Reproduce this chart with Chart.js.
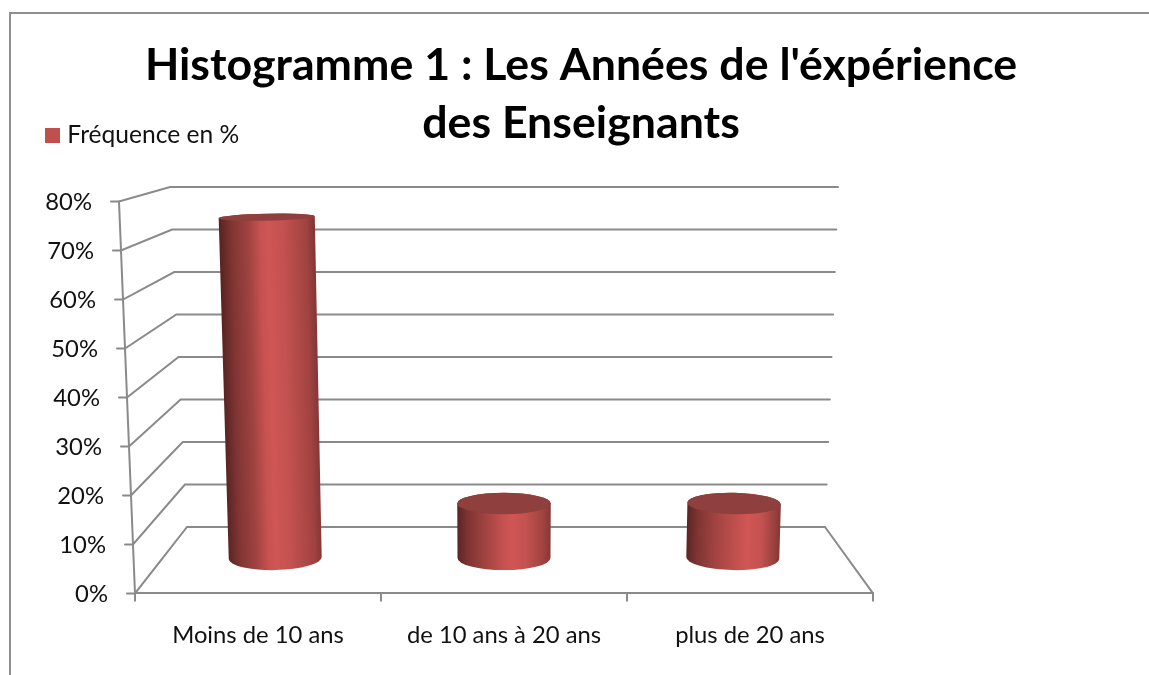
<!DOCTYPE html>
<html>
<head>
<meta charset="utf-8">
<style>html,body{margin:0;padding:0;background:#fff}canvas{display:block}</style>
<script src="https://cdn.jsdelivr.net/npm/chart.js@4/dist/chart.umd.min.js"></script>
</head>
<body>
<div style="width:1149px;height:675px"><canvas id="c"></canvas></div>
<script>
const titleLines = ["Histogramme 1 : Les Années de l'éxpérience", "des Enseignants"];
const categories = ["Moins de 10 ans", "de 10 ans à 20 ans", "plus de 20 ans"];
const seriesName = "Fréquence en %";
const frequencies = [75, 12, 12];
const axisMax = 80;
const axisStep = 10;

const AXIS = '#8a8a8a';
const RED = '#C0504D';
const FONT = 'Lato, Carlito, Calibri, sans-serif';

// Legend swatch: a 15px square, drawn as the legend's point style.
const swatch = document.createElement('canvas');
swatch.width = 15; swatch.height = 15;
const sw = swatch.getContext('2d'); sw.fillStyle = RED; sw.fillRect(0, 0, 15, 15);

// 3D look: the y scale is the front plane; the wall and the bars are derived from it.
function wallY(y, a) { return 527 + (y - a.bottom) * 340 / (a.bottom - a.top); }
function frac(y, a) { return (a.bottom - y) / (a.bottom - a.top); }
function axisX(y, a) { return a.left - 16 * frac(y, a); }
function wallLeft(y, a) { return 187 - 17 * frac(y, a); }
function wallRight(y, a) { return 825 + 13 * frac(y, a); }

const scene = {
  id: 'scene',
  afterLayout(chart) {
    chart.legend.left = 40; chart.legend.right = 500; chart.legend.top = 113;
    chart.titleBlock.left = 0; chart.titleBlock.right = 1162;
  },
  beforeDraw(chart) {
    const c = chart.ctx;
    c.save();
    c.strokeStyle = '#8f8f8f'; c.lineWidth = 2;
    c.beginPath(); c.moveTo(10, 675); c.lineTo(10, 13); c.lineTo(1149, 13); c.stroke();
    c.restore();
  },
  beforeDatasetsDraw(chart) {
    const c = chart.ctx, a = chart.chartArea, ys = chart.scales.y;
    c.save();
    c.strokeStyle = AXIS; c.lineWidth = 2; c.lineCap = 'round';
    ys.ticks.forEach(t => {
      const y = ys.getPixelForValue(t.value), x = axisX(y, a), wy = wallY(y, a);
      c.beginPath();
      c.moveTo(x - 8, y); c.lineTo(x, y);
      c.lineTo(wallLeft(y, a), wy);
      c.lineTo(wallRight(y, a), wy);
      c.stroke();
      c.fillStyle = '#111'; c.font = '23.8px ' + FONT;
      c.textAlign = 'right'; c.textBaseline = 'middle';
      c.fillText(t.label, x - 27, y + 1);
    });
    const t = ys.getPixelForValue(axisMax), b = ys.getPixelForValue(0);
    c.beginPath(); c.moveTo(axisX(t, a), t); c.lineTo(axisX(b, a), b); c.stroke();
    c.beginPath(); c.moveTo(wallRight(b, a), wallY(b, a)); c.lineTo(a.right, b); c.stroke();
    c.restore();
  },
  beforeDatasetDraw(chart, args) {
    const c = chart.ctx, a = chart.chartArea;
    const squeeze = 0.93, planeY = 0.9276, midX = 504, baseY = 558;
    const ry = y => 3.5 + (y - 218) * 0.0253;
    chart.getDatasetMeta(args.index).data.forEach(bar => {
      const toY = y => baseY + (y - a.bottom) * planeY;
      const xb = midX + (bar.x - (a.left + a.right) / 2) * squeeze;
      const hw = bar.width * squeeze / 2;
      const yt = toY(bar.y), yb = toY(bar.base);
      const grow = 1 + (yb - yt) * 0.000109;
      const xt = midX + (xb - midX) * grow, hwt = hw * (1 + (yb - yt) * 0.0001);
      const off = (xb - midX) / 229;
      const rot = off * 1.2 * Math.PI / 180;
      const peak = 0.58 + off * 0.07;
      const g = c.createLinearGradient(xb - hw, 0, xb + hw, 0);
      g.addColorStop(0, '#5a2524');
      g.addColorStop(0.12, '#803533');
      g.addColorStop(0.3, '#a04341');
      g.addColorStop(peak - 0.08, '#c75250');
      g.addColorStop(peak, '#cf5654');
      g.addColorStop(peak + 0.15, '#c45250');
      g.addColorStop(0.92, '#a04340');
      g.addColorStop(1, '#853836');
      c.save();
      c.beginPath();
      c.moveTo(xt - hwt, yt);
      c.lineTo(xb - hw, yb);
      c.ellipse(xb, yb, hw, ry(yb), rot, Math.PI, 0, true);
      c.lineTo(xt + hwt, yt);
      c.ellipse(xt, yt, hwt, ry(yt), rot, 0, Math.PI, true);
      c.closePath();
      c.save();
      const shear = (xt - xb) / (yt - yb);
      c.transform(1, 0, shear, 1, -shear * yb, 0);
      c.fillStyle = g;
      c.fill();
      c.restore();
      c.beginPath();
      c.ellipse(xt, yt, hwt, ry(yt), rot, 0, Math.PI * 2);
      c.fillStyle = '#8f3f3d';
      c.fill();
      c.restore();
    });
    return false;
  }
};

new Chart(document.getElementById('c'), {
  type: 'bar',
  data: {
    labels: categories,
    datasets: [{
      label: seriesName,
      data: frequencies,
      backgroundColor: RED,
      categoryPercentage: 1,
      barPercentage: 0.4065
    }]
  },
  options: {
    responsive: true,
    maintainAspectRatio: false,
    animation: false,
    layout: { padding: { left: 135, right: 276, top: 0, bottom: 5 } },
    plugins: {
      tooltip: { enabled: false },
      title: {
        display: true,
        text: titleLines,
        color: '#000',
        font: { family: FONT, size: 44.7, weight: 'bold', lineHeight: 1.297 },
        padding: { top: 37, bottom: 4 }
      },
      legend: {
        display: true,
        position: 'top',
        align: 'start',
        labels: {
          usePointStyle: true, pointStyle: swatch, pointStyleWidth: 5, boxHeight: 15,
          color: '#111', padding: 10, font: { family: FONT, size: 24.6 }
        }
      }
    },
    scales: {
      x: {
        grid: { drawOnChartArea: false, drawTicks: true, tickLength: 8, color: AXIS, lineWidth: 2, offset: true },
        border: { color: AXIS, width: 2 },
        ticks: { color: '#111', padding: 20, maxRotation: 0, font: { family: FONT, size: 23.8 } }
      },
      y: {
        min: 0, max: axisMax,
        afterFit: s => { s.width = 0; },
        grid: { display: false },
        border: { display: false },
        ticks: { display: false, stepSize: axisStep, callback: v => v + '%' }
      }
    }
  },
  plugins: [scene]
});
</script>
</body>
</html>
